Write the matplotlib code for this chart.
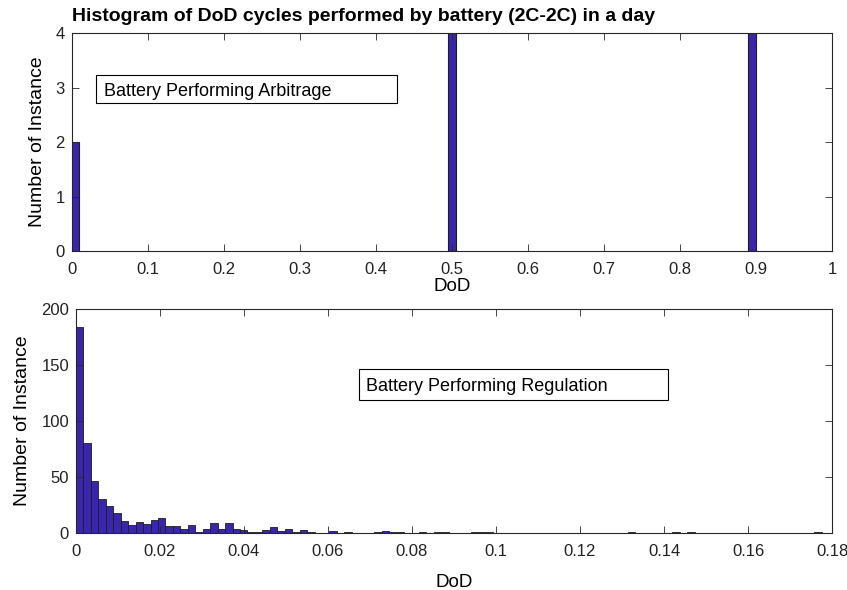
import numpy as np
import matplotlib
matplotlib.use('Agg')
import matplotlib.pyplot as plt
from matplotlib.patches import Rectangle

plt.rcParams['font.family'] = ['Liberation Sans', 'DejaVu Sans']

# arbitrage histogram (top)
arb_left = [0.0, 0.495, 0.89]
arb_counts = [2, 4, 4]
arb_width = 0.01

# regulation histogram (bottom), 100 bins
reg_bin_width = 0.001775
reg_counts = [184, 80, 46, 30, 24, 18, 11, 7, 10, 8,
              12, 13, 6, 6, 4, 7, 1, 4, 9, 4,
              9, 4, 3, 1, 1, 3, 5, 2, 4, 1,
              3, 1, 0, 0, 2, 0, 1, 0, 0, 0,
              1, 2, 1, 1, 0, 0, 1, 0, 1, 1,
              0, 0, 0, 1, 1, 1, 0, 0, 0, 0,
              0, 0, 0, 0, 0, 0, 0, 0, 0, 0,
              0, 0, 0, 0, 1, 0, 0, 0, 0, 0,
              1, 0, 1, 0, 0, 0, 0, 0, 0, 0,
              0, 0, 0, 0, 0, 0, 0, 0, 0, 1]
reg_left = np.arange(len(reg_counts)) * reg_bin_width

face = '#3a26ad'
edge = '#1e1e1e'
axcol = '#262626'

fig = plt.figure(figsize=(8.47, 5.90), dpi=100)
ax1 = fig.add_axes([0.0847, 0.5746, 0.8976, 0.3689])
ax2 = fig.add_axes([0.0897, 0.0966, 0.8926, 0.3797])


def style(ax):
    for s in ax.spines.values():
        s.set_color(axcol)
        s.set_linewidth(0.8)
    ax.tick_params(direction='in', top=True, right=True, length=5,
                   width=0.6, color=axcol, labelsize=12, labelcolor='#222222')
    ax.tick_params(axis='x', pad=8)
    ax.tick_params(axis='y', pad=5)


ax1.bar(arb_left, arb_counts, width=arb_width, align='edge',
        color=face, edgecolor=edge, linewidth=0.8)
ax1.set_xlim(0, 1)
ax1.set_ylim(0, 4)
ax1.set_xticks(np.arange(0, 1.01, 0.1))
ax1.set_xticklabels(['0', '0.1', '0.2', '0.3', '0.4', '0.5', '0.6', '0.7', '0.8', '0.9', '1'])
ax1.set_yticks([0, 1, 2, 3, 4])
ax1.set_xlabel('DoD', fontsize=13.5, labelpad=1)
ax1.set_ylabel('Number of Instance', fontsize=14, labelpad=7)
ax1.set_title('Histogram of DoD cycles performed by battery (2C-2C) in a day',
              loc='left', fontsize=14, fontweight='bold', pad=9)
style(ax1)
ax1.add_patch(Rectangle((0.032, 0.68), 0.396, 0.128, transform=ax1.transAxes,
                        facecolor='white', edgecolor='black', linewidth=0.8))
ax1.text(0.043, 0.742, 'Battery Performing Arbitrage', transform=ax1.transAxes,
         fontsize=13, va='center_baseline', ha='left')

ax2.bar(reg_left, reg_counts, width=reg_bin_width, align='edge',
        color=face, edgecolor=edge, linewidth=0.6)
ax2.set_xlim(0, 0.18)
ax2.set_ylim(0, 200)
ax2.set_xticks(np.arange(0, 0.181, 0.02))
ax2.set_xticklabels(['0', '0.02', '0.04', '0.06', '0.08', '0.1', '0.12', '0.14', '0.16', '0.18'])
ax2.set_yticks([0, 50, 100, 150, 200])
ax2.set_xlabel('DoD', fontsize=13.5, labelpad=11)
ax2.set_ylabel('Number of Instance', fontsize=14, labelpad=7)
style(ax2)
ax2.add_patch(Rectangle((0.374, 0.594), 0.409, 0.138, transform=ax2.transAxes,
                        facecolor='white', edgecolor='black', linewidth=0.8))
ax2.text(0.384, 0.661, 'Battery Performing Regulation', transform=ax2.transAxes,
         fontsize=13, va='center_baseline', ha='left')

fig.savefig('out.png', dpi=100)
